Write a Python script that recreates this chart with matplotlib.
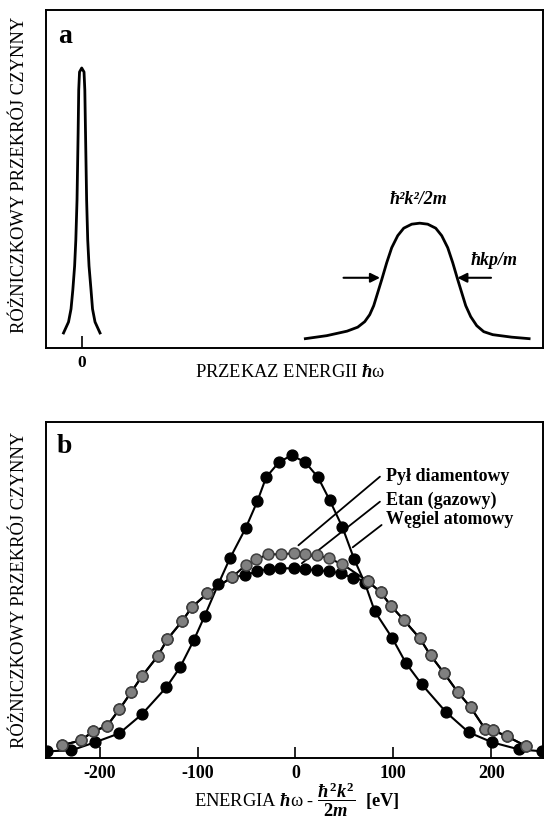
import matplotlib
matplotlib.use('Agg')
import matplotlib.pyplot as plt

plt.rcParams['font.family'] = ['Liberation Serif', 'DejaVu Serif']
plt.rcParams['mathtext.fontset'] = 'custom'
plt.rcParams['mathtext.rm'] = 'Liberation Serif'
plt.rcParams['mathtext.it'] = 'Liberation Serif:italic:bold'
plt.rcParams['mathtext.bf'] = 'Liberation Serif:bold'
plt.rcParams['axes.unicode_minus'] = False

# --- panel a: schematic spectrum (arbitrary units) ---
elastic_x = [-18.2, -13.2, -10.7, -8.9, -7.1, -5.9, -4.7, -3.6, -3.0, -2.2, 0,
             2.3, 3.1, 3.8, 4.9, 6.0, 7.3, 9.3, 10.8, 13.3, 18.3]
elastic_y = [14.7, 25.7, 38.7, 57.7, 81.7, 107.7, 147.7, 214.7, 257.7, 275.7, 279.7,
             275.7, 257.7, 214.7, 147.7, 107.7, 81.7, 57.7, 38.7, 25.7, 14.7]

compton_x = [223.6, 245, 265.3, 276, 283, 288, 292, 296, 300, 305, 310, 316, 322, 330, 338,
             346, 354, 360, 366, 371, 376, 380, 384, 389, 395, 402, 411, 430, 447.4]
compton_y = [9, 12, 16.5, 20.5, 26, 33, 42, 55, 68, 85, 100, 112, 119.5, 123.5, 124.5,
             123.5, 119.5, 112, 100, 85, 68, 55, 42, 31, 22, 16, 13, 10.5, 9]

# --- panel b: measured profiles, energy in eV, intensity in arbitrary units ---
wegiel_x = [-254, -229, -205, -180, -157, -132, -118, -104, -93, -79, -67, -51, -39, -30, -17, -4,
            10, 23, 35, 48, 60, 71, 81, 99, 113, 129, 154, 177, 201, 228, 252]
wegiel_y = [0.07, 0.08, 0.16, 0.25, 0.44, 0.71, 0.91, 1.18, 1.42, 1.74, 2.00, 2.30, 2.57, 2.81, 2.96, 3.03,
            2.96, 2.81, 2.58, 2.31, 1.99, 1.75, 1.47, 1.20, 0.95, 0.74, 0.46, 0.26, 0.16, 0.09, 0.07]

pyl_x = [-239, -219, -207, -193, -180, -168, -157, -141, -131, -116, -106, -90, -65, -51, -40, -28,
         -15, -2, 10, 22, 34, 48, 74, 87, 98, 111, 127, 138, 152, 166, 179, 194, 202, 216, 236]
pyl_y = [0.13, 0.18, 0.27, 0.32, 0.49, 0.66, 0.82, 1.02, 1.19, 1.37, 1.51, 1.65, 1.81, 1.93, 1.99, 2.04,
         2.04, 2.05, 2.04, 2.03, 2.00, 1.94, 1.77, 1.66, 1.52, 1.38, 1.20, 1.03, 0.85, 0.66, 0.51, 0.29, 0.28, 0.22, 0.12]

etan_x = [-239, -219, -207, -193, -180, -168, -157, -141, -131, -116, -106, -90, -65,
          -52, -39, -27.5, -15.6, -2, 10, 22, 34, 47, 59,
          74, 87, 98, 111, 127, 138, 152, 166, 179, 194, 202, 216, 236]
etan_y = [0.13, 0.18, 0.27, 0.32, 0.49, 0.66, 0.82, 1.02, 1.19, 1.37, 1.51, 1.65, 1.81,
          1.83, 1.87, 1.89, 1.90, 1.90, 1.89, 1.88, 1.87, 1.85, 1.80,
          1.77, 1.66, 1.52, 1.38, 1.20, 1.03, 0.85, 0.66, 0.51, 0.29, 0.28, 0.22, 0.12]

xticks_b = [-200, -100, 0, 100, 200]

fig = plt.figure(figsize=(5.44, 8.19), dpi=100)

# panel a
ax1 = fig.add_axes([0.0846, 0.5755, 0.9136, 0.4123])
ax1.plot(elastic_x, elastic_y, color='black', lw=2.0, solid_joinstyle='round')
ax1.plot(compton_x, compton_y, color='black', lw=2.0, solid_joinstyle='round')
ax1.set_xlim(-35.7, 461.3)
ax1.set_ylim(0, 337.7)
ax1.set_xticks([0])
ax1.set_yticks([])
ax1.tick_params(axis='x', direction='in', length=9, width=1.2, labelsize=12.5, pad=5)
for lbl in ax1.get_xticklabels():
    lbl.set_fontweight('bold')
for sp in ax1.spines.values():
    sp.set_linewidth(1.4)

ax1.annotate('', xy=(298.3, 69.9), xytext=(261.8, 69.9),
             arrowprops=dict(arrowstyle='-|>', color='black', lw=1.5, mutation_scale=14,
                             shrinkA=0, shrinkB=0))
ax1.annotate('', xy=(375.6, 69.9), xytext=(409.3, 69.9),
             arrowprops=dict(arrowstyle='-|>', color='black', lw=1.5, mutation_scale=14,
                             shrinkA=0, shrinkB=0))
ax1.text(336.3, 148, 'ħ²k²/2m', ha='center', va='center', fontsize=13,
         fontweight='bold', fontstyle='italic')
ax1.text(412.8, 86.7, 'ħkp/m', ha='center', va='center', fontsize=13,
         fontweight='bold', fontstyle='italic')
ax1.text(0.025, 0.903, 'a', transform=ax1.transAxes, ha='left', va='baseline',
         fontsize=20, fontweight='bold')

fig.text(20 / 544, 1 - 175 / 819, 'RÓŻNICZKOWY PRZEKRÓJ CZYNNY', rotation=90,
         ha='center', va='center', fontsize=13.3)
fig.text(290 / 544, 1 - 372.6 / 819, r'PRZEKAZ ENERGII $\hbar\mathrm{\omega}$',
         ha='center', va='center', fontsize=13.3)

# panel b
ax2 = fig.add_axes([0.0846, 0.0741, 0.9136, 0.4103])
ax2.plot(etan_x, etan_y, '-o', color='black', lw=1.5, ms=7.8, zorder=2)
ax2.plot(wegiel_x, wegiel_y, '-o', color='black', lw=1.5, ms=7.8, zorder=3)
ax2.plot(pyl_x, pyl_y, '-o', color='black', lw=1.5, ms=7.8, mfc='#808080', mec='#404040',
         mew=1.1, zorder=4)
ax2.set_xlim(-255, 253)
ax2.set_ylim(0, 3.36)
ax2.set_xticks(xticks_b)
ax2.set_yticks([])
ax2.tick_params(axis='x', direction='in', length=8, width=1.2, labelsize=13, pad=5)
for lbl in ax2.get_xticklabels():
    lbl.set_fontweight('bold')
for sp in ax2.spines.values():
    sp.set_linewidth(1.4)

leaders = [((86.3, 2.816), (3, 2.13)),
           ((86.3, 2.566), (6.5, 1.95)),
           ((88.0, 2.333), (58.5, 2.11))]
for start, end in leaders:
    ax2.annotate('', xy=end, xytext=start,
                 arrowprops=dict(arrowstyle='-', color='black', lw=1.3, shrinkA=0, shrinkB=0))
ax2.text(93, 2.816, 'Pył diamentowy', ha='left', va='center', fontsize=13, fontweight='bold')
ax2.text(93, 2.583, 'Etan (gazowy)', ha='left', va='center', fontsize=13, fontweight='bold')
ax2.text(93, 2.383, 'Węgiel atomowy', ha='left', va='center', fontsize=13, fontweight='bold')
ax2.text(0.022, 0.908, 'b', transform=ax2.transAxes, ha='left', va='baseline',
         fontsize=20, fontweight='bold')

fig.text(20 / 544, 1 - 589.7 / 819, 'RÓŻNICZKOWY PRZEKRÓJ CZYNNY', rotation=90,
         ha='center', va='center', fontsize=13.3)
fig.text(297 / 544, 1 - 800 / 819,
         r'ENERGIA $\hbar\mathrm{\omega}$ - $\dfrac{\hbar^{\mathbf{2}}k^{\mathbf{2}}}{\mathbf{2}m}$  $\mathbf{[eV]}$',
         ha='center', va='center', fontsize=13.3)

fig.savefig('out.png', dpi=100)
